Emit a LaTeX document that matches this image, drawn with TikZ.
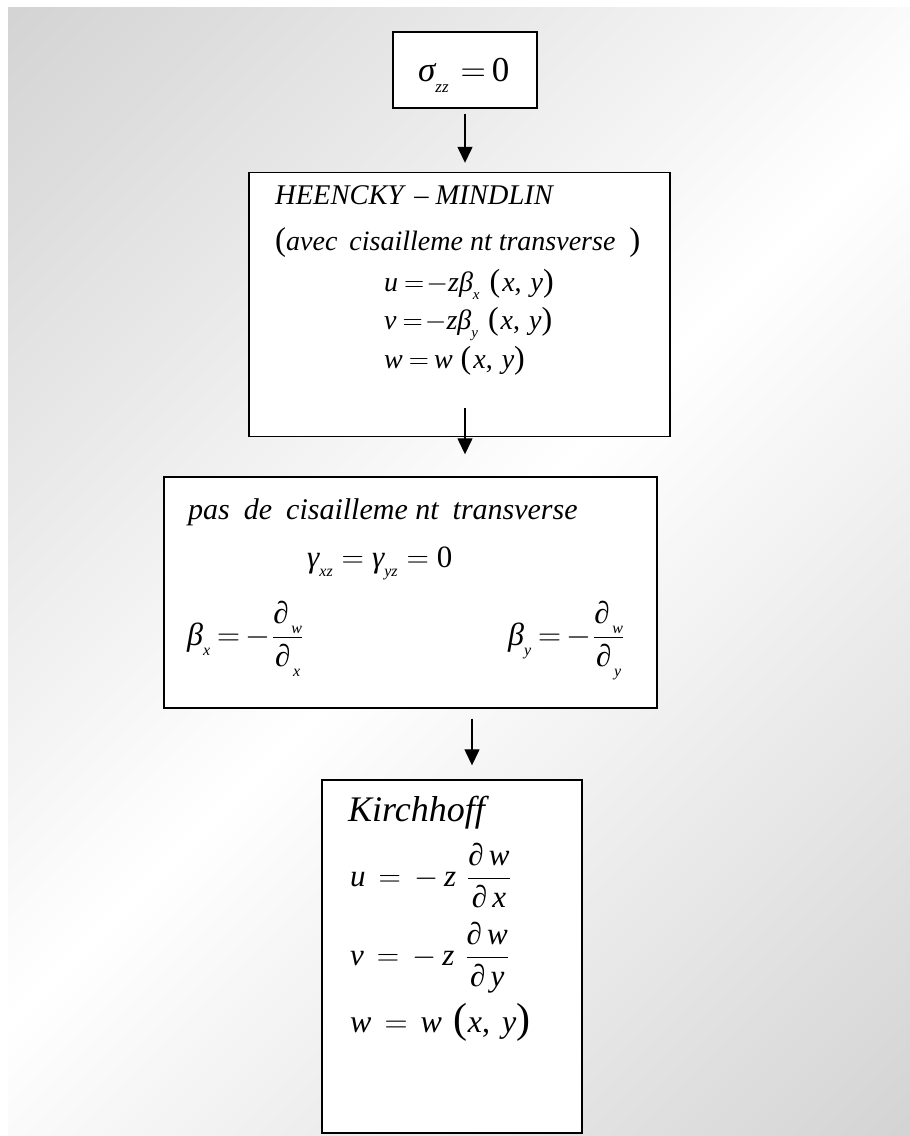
\documentclass[tikz,border=0pt]{standalone}
\usepackage{fix-cm}
\usepackage{fontspec}
\setmainfont{Liberation Serif}
\usetikzlibrary{arrows.meta,calc}
\newcommand\sub[2]{\raisebox{-0.32em}{\fontsize{#1}{#1}\selectfont\itshape #2}}
\newcommand\fs[1]{\fontsize{#1}{#1}\selectfont}
\newcommand\eq{\ensuremath{=}}
\newcommand\mi{\ensuremath{-}}
\newcommand\dfr[2]{$\displaystyle\frac{\hbox{#1}}{\hbox{#2}}$}
\definecolor{bggray}{gray}{0.76}
\pgfdeclareverticalshading{bgsh}{100bp}{color(0bp)=(bggray); color(50bp)=(white); color(100bp)=(bggray)}
\tikzset{
  box/.style={draw=black, line width=1.4pt, fill=white},
  conn/.style={line width=1.3pt, -{Triangle[width=15pt,length=16pt]}},
  txt/.style={anchor=base west, inner sep=0pt, font=\itshape},
}
\begin{document}
\begin{tikzpicture}[x=1pt,y=-1pt]
\useasboundingbox (0,0) rectangle (910,1136);
\fill[white] (0,0) rectangle (910,1136);
\shade[shading=bgsh, shading angle=45] (8,7) rectangle (910,1136);
% boxes
\node[box, minimum width=144pt, minimum height=76pt] (b1) at (465,70) {};
\node[box, minimum width=421pt, minimum height=264pt] (b2) at (459.5,304.5) {};
\node[box, minimum width=493pt, minimum height=231pt] (b3) at (410.5,592.5) {};
\node[box, minimum width=260pt, minimum height=353pt] (b4) at (452,956.5) {};
% box 1
\node[txt] (t1) at (418,81) {\fs{35}σ\sub{17}{zz}\upshape\hspace{12pt}\eq\hspace{6pt}0};
% box 2
\node[txt] (t2a) at (275,204) {\fs{28.5}HEENCKY\hspace{11pt}\upshape –\hspace{7pt}\itshape MINDLIN};
\node[txt] (t2b) at (275,250) {\fs{28}{\upshape\fs{33}(}avec\hspace{12pt}cisailleme nt transverse\hspace{14pt}{\upshape\fs{33})}};
\node[txt] (t2c) at (384,291) {\fs{28}u\upshape\hspace{6pt}\eq\hspace{2pt}\mi\itshape zβ\sub{15}{x}\hspace{10pt}{\upshape\fs{32}(}\hspace{2pt}x\upshape,\hspace{9pt}\itshape y{\upshape\fs{32})}};
\node[txt] (t2d) at (384,329) {\fs{28}v\upshape\hspace{6pt}\eq\hspace{2pt}\mi\itshape zβ\sub{15}{y}\hspace{10pt}{\upshape\fs{32}(}\hspace{2pt}x\upshape,\hspace{9pt}\itshape y{\upshape\fs{32})}};
\node[txt] (t2e) at (384,368) {\fs{28}w\upshape\hspace{6pt}\eq\hspace{5pt}\itshape w\hspace{8pt}{\upshape\fs{32}(}\hspace{2pt}x\upshape,\hspace{9pt}\itshape y{\upshape\fs{32})}};
% box 3
\node[txt] (t3a) at (188,519) {\fs{30}pas\hspace{14pt}de\hspace{14pt}cisailleme nt\hspace{14pt}transverse};
\node[txt] (t3b) at (307,567) {\fs{31}γ\sub{16}{xz}\upshape\hspace{9pt}\eq\hspace{8pt}\itshape γ\sub{16}{yz}\upshape\hspace{9pt}\eq\hspace{8pt}0};
\node[txt] (t3c) at (187,645) {\fs{32}β\sub{16}{x}\upshape\hspace{7pt}\eq\hspace{5pt}\mi\hspace{2pt}\dfr{\fs{31}\itshape ∂\sub{16}{\,w}}{\fs{31}\itshape ∂\sub{16}{\,x}}};
\node[txt] (t3d) at (508,645) {\fs{32}β\sub{16}{y}\upshape\hspace{7pt}\eq\hspace{5pt}\mi\hspace{2pt}\dfr{\fs{31}\itshape ∂\sub{16}{\,w}}{\fs{31}\itshape ∂\sub{16}{\,y}}};
% box 4
\node[txt] (t4a) at (348,821) {\fs{36}Kirchhoff};
\node[txt] (t4b) at (350,886) {\fs{31}u\upshape\hspace{13pt}\eq\hspace{13pt}\mi\hspace{6pt}\itshape z\hspace{11pt}\dfr{\fs{31}\itshape ∂\,w}{\fs{31}\itshape ∂\,x}};
\node[txt] (t4c) at (350,965) {\fs{31}v\upshape\hspace{13pt}\eq\hspace{13pt}\mi\hspace{6pt}\itshape z\hspace{11pt}\dfr{\fs{31}\itshape ∂\,w}{\fs{31}\itshape ∂\,y}};
\node[txt] (t4d) at (350,1032) {\fs{32}w\upshape\hspace{13pt}\eq\hspace{13pt}\itshape w\hspace{12pt}{\upshape\fs{42}(}x\upshape,\hspace{12pt}\itshape y{\upshape\fs{42})}};
% connectors
\coordinate (a2s) at (465,408);
\draw[conn, shorten <=5pt, shorten >=9pt] (b1.south) -- (b1.south |- b2.north);
\draw[conn, shorten >=22pt] (a2s) -- (a2s |- b3.north);
\coordinate (a3x) at (472,0);
\draw[conn, shorten <=10pt, shorten >=14pt] (b3.south -| a3x) -- (b4.north -| a3x);
\end{tikzpicture}
\end{document}
